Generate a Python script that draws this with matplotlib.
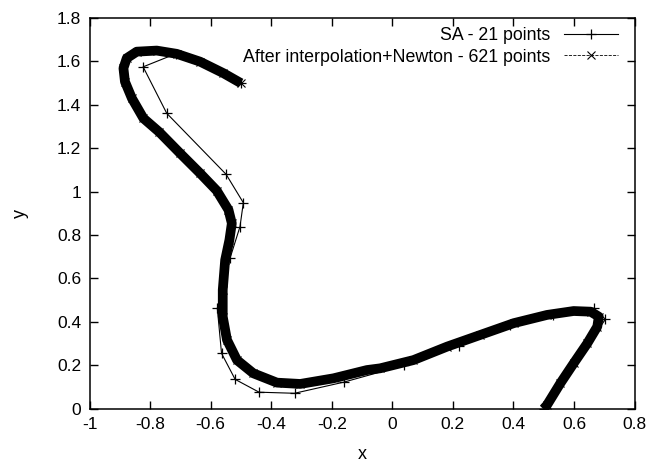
import numpy as np
import matplotlib.pyplot as plt
from matplotlib.ticker import MultipleLocator

plt.rcParams['font.family'] = ['Liberation Sans', 'DejaVu Sans']

# SA solution, 21 points
sa_x = [0.5, 0.704, 0.665, 0.53, 0.39, 0.22, 0.04, -0.161, -0.323, -0.440, -0.519,
        -0.564, -0.578, -0.536, -0.503, -0.492, -0.549, -0.745, -0.823, -0.714, -0.5]
sa_y = [0.0, 0.412, 0.463, 0.43, 0.385, 0.29, 0.20, 0.122, 0.071, 0.076, 0.135,
        0.255, 0.463, 0.693, 0.839, 0.949, 1.080, 1.361, 1.575, 1.636, 1.5]

# refined curve after interpolation + Newton
nw_x = [0.5, 0.511, 0.555, 0.599, 0.644, 0.677, 0.682, 0.655, 0.599, 0.511, 0.401,
        0.291, 0.181, 0.070, -0.040, -0.084, -0.194, -0.304, -0.381, -0.459, -0.513,
        -0.546, -0.560, -0.560, -0.552, -0.538, -0.530, -0.541, -0.580, -0.635, -0.701,
        -0.770, -0.822, -0.860, -0.883, -0.888, -0.877, -0.844, -0.778, -0.712, -0.635,
        -0.558, -0.5]
nw_y = [0.0, 0.017, 0.117, 0.209, 0.301, 0.378, 0.424, 0.447, 0.450, 0.432, 0.394,
        0.340, 0.286, 0.224, 0.186, 0.178, 0.140, 0.114, 0.120, 0.163, 0.224,
        0.317, 0.424, 0.547, 0.685, 0.777, 0.854, 0.916, 1.005, 1.085, 1.177,
        1.275, 1.338, 1.430, 1.507, 1.569, 1.615, 1.645, 1.650, 1.635, 1.599,
        1.546, 1.5]

fig = plt.figure(figsize=(6.52, 4.62), dpi=100)
ax = fig.add_axes([0.1373, 0.1154, 0.8359, 0.8456])

ax.plot(sa_x, sa_y, '-', color='k', lw=0.8, marker='+', ms=7, mew=0.9,
        label='SA - 21 points')
ax.plot(nw_x, nw_y, '-', color='k', lw=7, solid_capstyle='butt',
        solid_joinstyle='round')
ax.plot(nw_x, nw_y, '--', color='k', lw=0.6, marker='x', ms=6, mew=0.8,
        label='After interpolation+Newton - 621 points')

ax.set_xlim(-1, 0.8)
ax.set_ylim(0, 1.8)
ax.xaxis.set_major_locator(MultipleLocator(0.2))
ax.yaxis.set_major_locator(MultipleLocator(0.2))
ax.xaxis.set_major_formatter(plt.FuncFormatter(lambda v, p: '%g' % round(v, 2)))
ax.yaxis.set_major_formatter(plt.FuncFormatter(lambda v, p: '%g' % round(v, 2)))
ax.tick_params(direction='in', top=True, right=True, length=6, width=1,
               labelsize=12.5, pad=6)
for s in ax.spines.values():
    s.set_linewidth(1.1)

ax.set_xlabel('x', fontsize=13, labelpad=10)
ax.set_ylabel('y', fontsize=13, labelpad=20)

ax.legend(loc='upper right', frameon=False, markerfirst=False, numpoints=1,
          fontsize=12.8, handlelength=3.0, handletextpad=0.8, labelspacing=0.25,
          borderaxespad=0.0, bbox_to_anchor=(0.982, 0.995))

fig.savefig('out.png', dpi=100)
